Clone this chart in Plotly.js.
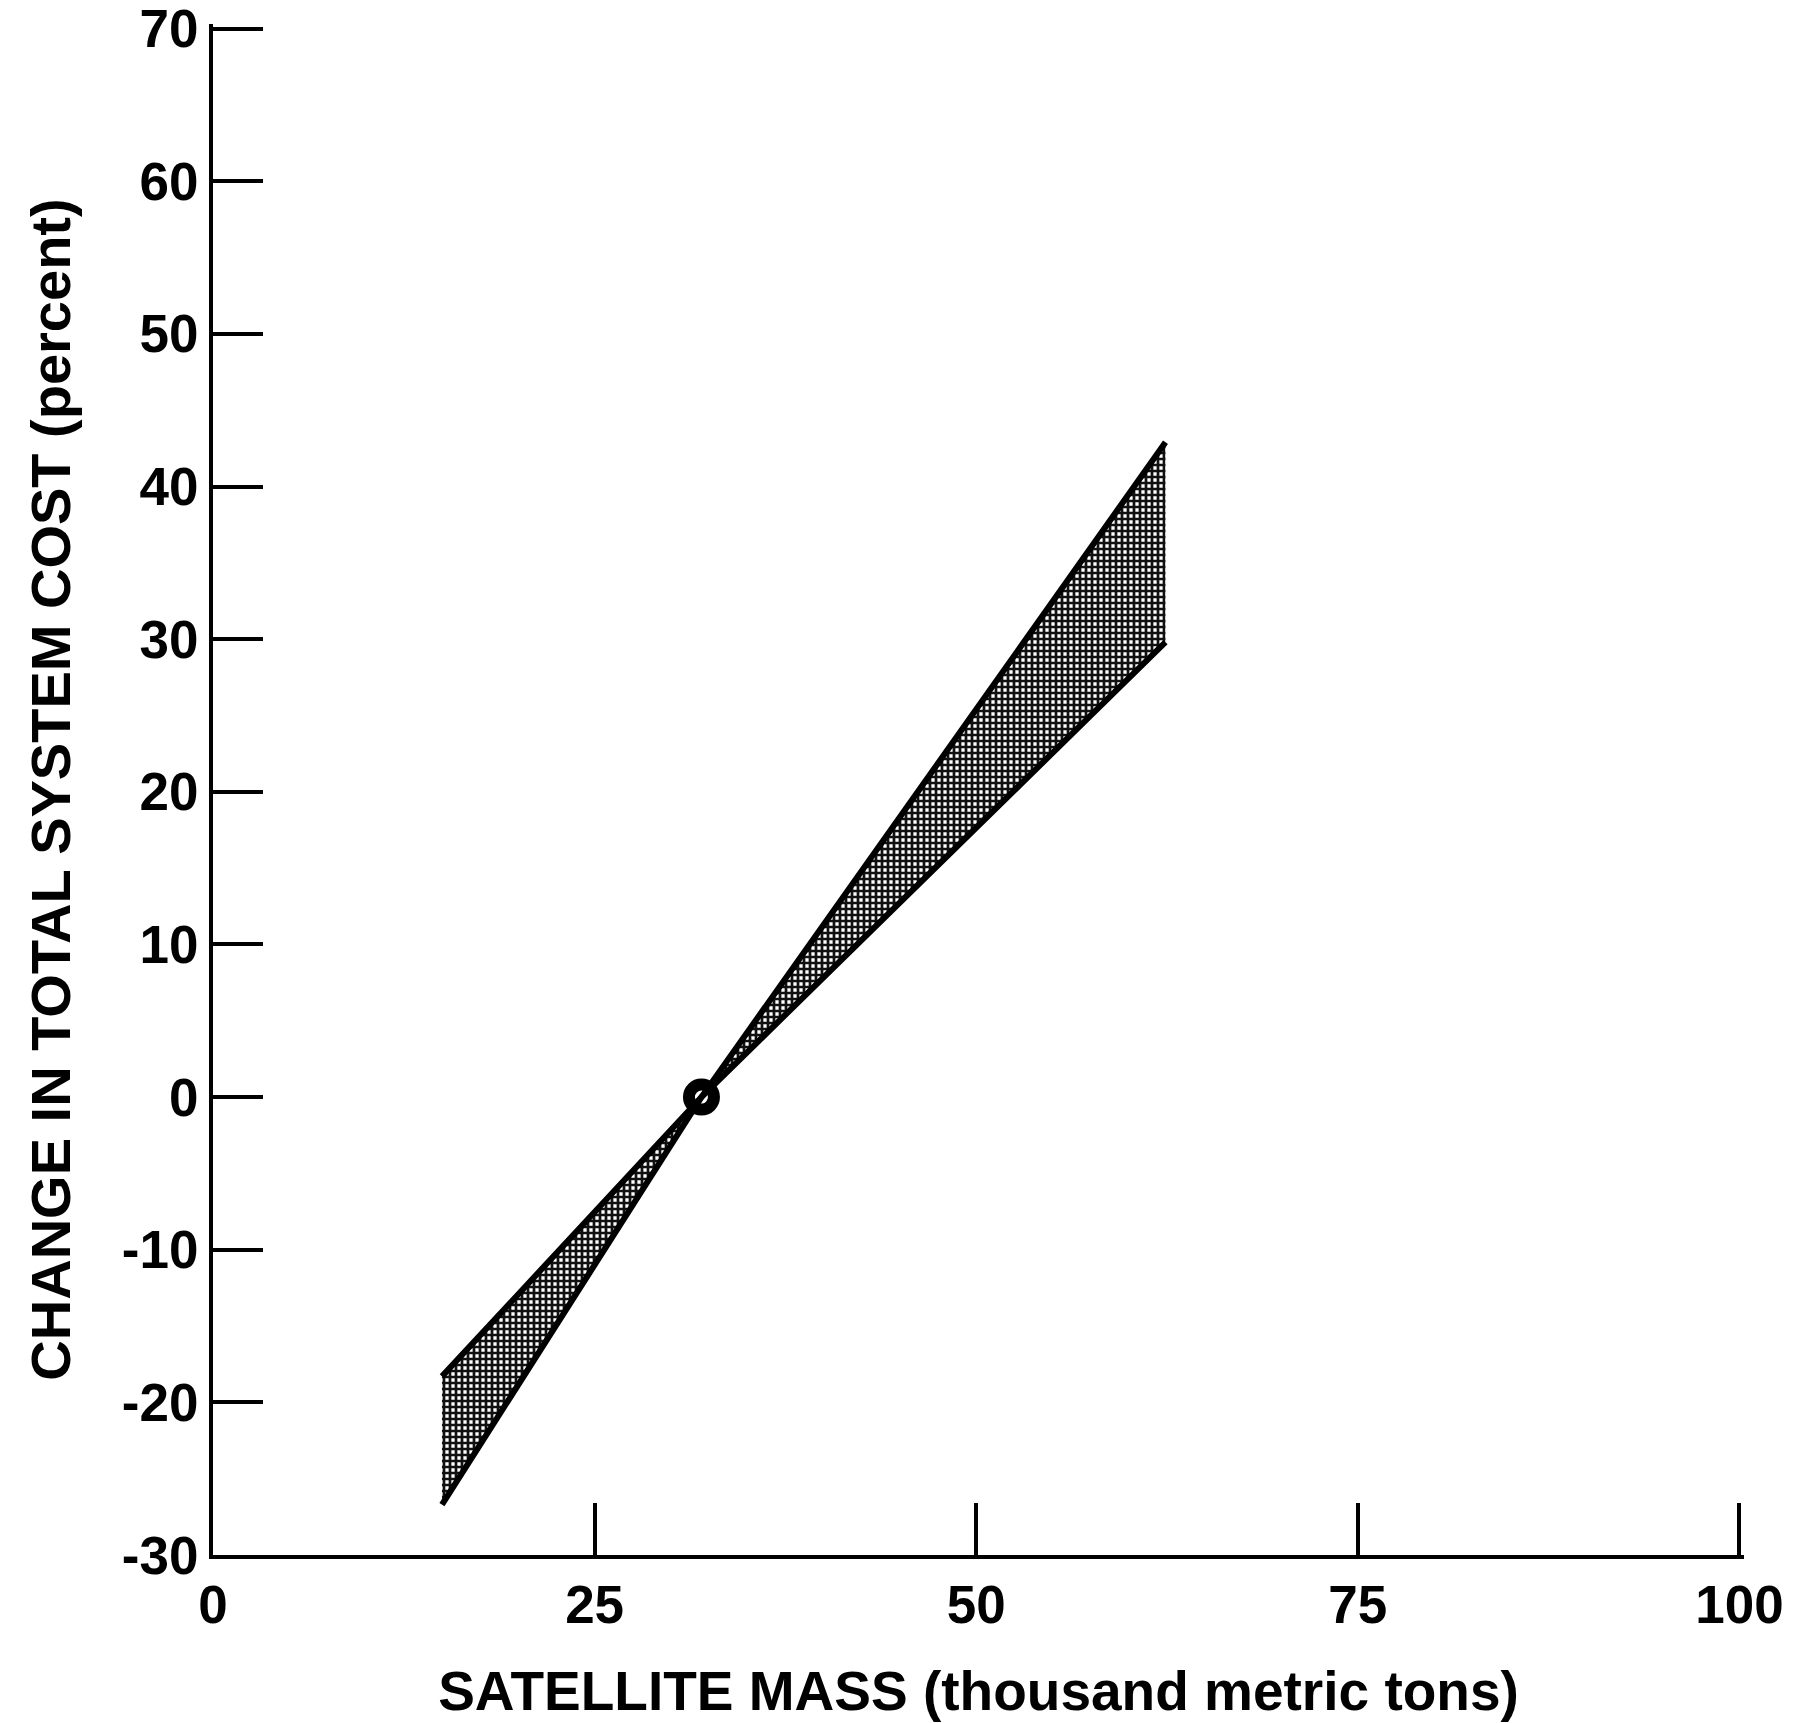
<!DOCTYPE html>
<html>
<head>
<meta charset="utf-8">
<script src="https://cdn.plot.ly/plotly-3.0.1.min.js"></script>
<style>
  html, body { margin: 0; padding: 0; background: #ffffff; }
  #chart { width: 1796px; height: 1723px; }
</style>
</head>
<body>
<div id="chart"></div>
<script>
// Satellite mass (thousand metric tons)
const massPoints = [15, 32, 62.4];
// Change in total system cost (percent) - lower-slope bound
const lowSlopeCost = [-18.3, 0, 29.8];
// Change in total system cost (percent) - higher-slope bound
const highSlopeCost = [-26.7, 0, 42.9];
// Reference design point
const refMass = [32];
const refCost = [0];

const xTicks = [0, 25, 50, 75, 100];
const xTickText = ['0', '25', '50', '75', '100'];
const yTicks = [-30, -20, -10, 0, 10, 20, 30, 40, 50, 60, 70];
const yTickText = ['-30', '-20', '-10', '0', '10', '20', '30', '40', '50', '60', '70'];

const fontFamily = '"Liberation Sans", Arial, Helvetica, sans-serif';

const traces = [
  {
    x: massPoints, y: lowSlopeCost,
    type: 'scatter', mode: 'lines',
    line: { color: '#000000', width: 6 },
    showlegend: false, hoverinfo: 'skip'
  },
  {
    x: massPoints, y: highSlopeCost,
    type: 'scatter', mode: 'lines',
    line: { color: '#000000', width: 6 },
    fill: 'tonexty',
    fillcolor: 'rgba(0,0,0,0)',
    fillpattern: { shape: '+', fgcolor: '#111111', bgcolor: '#ffffff', size: 6, solidity: 0.7 },
    showlegend: false, hoverinfo: 'skip'
  },
  {
    x: refMass, y: refCost,
    type: 'scatter', mode: 'markers',
    marker: { symbol: 'circle-open', size: 25, color: '#000000', line: { width: 12, color: '#000000' } },
    showlegend: false, hoverinfo: 'skip'
  }
];

const layout = {
  width: 1796, height: 1723,
  paper_bgcolor: '#ffffff', plot_bgcolor: '#ffffff',
  margin: { l: 213, r: 52, t: 24, b: 168, autoexpand: false },
  showlegend: false,
  font: { family: fontFamily, color: '#000000' },
  xaxis: {
    range: [0, 100.3],
    tickmode: 'array', tickvals: xTicks, ticktext: xTickText,
    ticks: 'inside', ticklen: 52, tickwidth: 4, tickcolor: '#000000',
    ticklabeloverflow: 'allow',
    showline: true, linewidth: 4, linecolor: '#000000',
    showgrid: false, zeroline: false,
    tickfont: { family: fontFamily, size: 53, color: '#000000', weight: 'bold' },
    title: { text: 'SATELLITE MASS (thousand metric tons)', standoff: 40,
             font: { family: fontFamily, size: 55, color: '#000000', weight: 'bold' } },
    automargin: false,
    fixedrange: true
  },
  yaxis: {
    range: [-30, 70.3],
    tickmode: 'array', tickvals: yTicks, ticktext: yTickText,
    ticks: 'inside', ticklen: 50, tickwidth: 4, tickcolor: '#000000',
    ticklabeloverflow: 'allow',
    showline: true, linewidth: 4, linecolor: '#000000',
    showgrid: false, zeroline: false,
    tickfont: { family: fontFamily, size: 53, color: '#000000', weight: 'bold' },
    title: { text: 'CHANGE IN TOTAL SYSTEM COST (percent)', standoff: 34,
             font: { family: fontFamily, size: 56, color: '#000000', weight: 'bold' } },
    automargin: false,
    fixedrange: true
  }
};

Plotly.newPlot('chart', traces, layout, { displayModeBar: false, staticPlot: true });
</script>
</body>
</html>
